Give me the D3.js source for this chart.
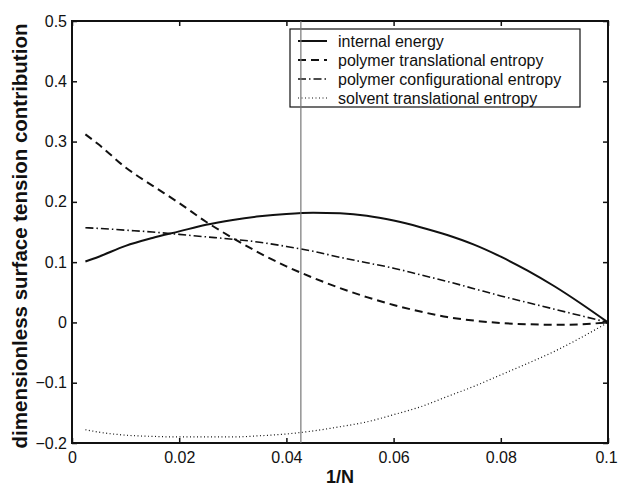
<!DOCTYPE html>
<html>
<head>
<meta charset="utf-8">
<script src="https://cdn.jsdelivr.net/npm/d3@7"></script>
<style>
  body { margin: 0; background: #fff; }
  text { font-family: "Liberation Sans", Arial, Helvetica, sans-serif; }
</style>
</head>
<body>
<div id="graph"></div>
<script>
// --------------------------------------
//  Data (1/N and contributions)
// --------------------------------------

const invN = [0.0025, 0.005, 0.01, 0.015, 0.02, 0.025, 0.03, 0.035, 0.04, 0.045, 0.05,
              0.055, 0.06, 0.065, 0.07, 0.075, 0.08, 0.085, 0.09, 0.095, 0.1];

const internalEnergy = [0.101, 0.109, 0.127, 0.140, 0.151, 0.162, 0.170, 0.176, 0.180, 0.182, 0.181,
                        0.177, 0.169, 0.158, 0.145, 0.129, 0.109, 0.086, 0.060, 0.031, 0];

const polymerTrans = [0.312, 0.295, 0.257, 0.227, 0.198, 0.167, 0.140, 0.115, 0.093, 0.074, 0.057,
                      0.042, 0.029, 0.018, 0.009, 0.003, -0.001, -0.003, -0.004, -0.003, 0];

const polymerConf = [0.157, 0.156, 0.153, 0.150, 0.146, 0.142, 0.138, 0.133, 0.126, 0.118, 0.108,
                     0.099, 0.090, 0.079, 0.068, 0.056, 0.044, 0.033, 0.022, 0.011, 0];

const solventTrans = [-0.178, -0.182, -0.187, -0.189, -0.190, -0.190, -0.190, -0.188, -0.185, -0.180, -0.173,
                      -0.165, -0.153, -0.140, -0.123, -0.106, -0.087, -0.068, -0.048, -0.025, 0];

const seriesNames = ["internal energy", "polymer translational entropy",
                     "polymer configurational entropy", "solvent translational entropy"];

const xTicks = [0, 0.02, 0.04, 0.06, 0.08, 0.1];
const yTicks = [-0.2, -0.1, 0, 0.1, 0.2, 0.3, 0.4, 0.5];
const markerX = 0.0427;

// --------------------------------------
//  Margin and canvas
// --------------------------------------

const margin = { top: 21, right: 10, bottom: 46, left: 72 };
const width = 618 - margin.left - margin.right;
const height = 489 - margin.top - margin.bottom;

const svg = d3.select("#graph")
  .append("svg")
  .attr("width", 618)
  .attr("height", 489)
  .append("g")
  .attr("transform", "translate(" + margin.left + "," + margin.top + ")");

// --------------------------------------
//  Scales
// --------------------------------------

const x = d3.scaleLinear().domain([0, 0.1]).range([0, width]);
const y = d3.scaleLinear().domain([-0.2, 0.5]).range([height, 0]);

const styles = [
  { dash: null, width: 2 },
  { dash: "8,5", width: 2 },
  { dash: "8,3,1.5,3", width: 1.6 },
  { dash: "1,2.5", width: 1.2 }
];

// --------------------------------------
//  Axes (ticks inside, box around)
// --------------------------------------

const fmt = d => d3.format("")(+d.toFixed(2)).replace("-", "\u2212");

const xAxis = svg.append("g")
  .attr("transform", "translate(0," + height + ")")
  .call(d3.axisBottom(x).tickValues(xTicks).tickSize(-5).tickPadding(9).tickFormat(fmt));

// keep the last label inside the window
xAxis.selectAll(".tick text").filter(d => d === 0.1).attr("dx", -2);

const yAxis = svg.append("g")
  .call(d3.axisLeft(y).tickValues(yTicks).tickSize(-5).tickPadding(5).tickFormat(fmt));

svg.append("g")
  .call(d3.axisTop(x).tickValues(xTicks).tickSize(-5).tickFormat(""));
svg.append("g")
  .attr("transform", "translate(" + width + ",0)")
  .call(d3.axisRight(y).tickValues(yTicks).tickSize(-5).tickFormat(""));

svg.selectAll(".domain").remove();
svg.selectAll(".tick line").attr("stroke", "#111").attr("stroke-width", 1.5);
svg.selectAll(".tick text").attr("font-size", 16).attr("fill", "#111")
  .attr("font-family", "'Liberation Sans', Arial, sans-serif");

svg.append("rect")
  .attr("width", width)
  .attr("height", height)
  .attr("fill", "none")
  .attr("stroke", "#111")
  .attr("stroke-width", 2);

// --------------------------------------
//  Lines
// --------------------------------------

const line = d3.line()
  .x((d, i) => x(invN[i]))
  .y(d => y(d))
  .curve(d3.curveMonotoneX);

[internalEnergy, polymerTrans, polymerConf, solventTrans].forEach((vals, k) => {
  svg.append("path")
    .attr("d", line(vals))
    .attr("fill", "none")
    .attr("stroke", "#111")
    .attr("stroke-width", styles[k].width)
    .attr("stroke-dasharray", styles[k].dash);
});

// --------------------------------------
//  Legend
// --------------------------------------

const legend = svg.append("g").attr("transform", "translate(218,8)");

legend.append("rect")
  .attr("width", 290)
  .attr("height", 78)
  .attr("fill", "none")
  .attr("stroke", "#111")
  .attr("stroke-width", 1.2);

seriesNames.forEach((name, k) => {
  const yy = 12 + k * 19;
  legend.append("line")
    .attr("x1", 8).attr("x2", 37)
    .attr("y1", yy).attr("y2", yy)
    .attr("stroke", "#111")
    .attr("stroke-width", styles[k].width)
    .attr("stroke-dasharray", styles[k].dash);
  legend.append("text")
    .attr("x", 48)
    .attr("y", yy)
    .attr("dy", "0.35em")
    .attr("font-size", 16)
    .attr("fill", "#111")
    .text(name);
});

// vertical marker line
svg.append("line")
  .attr("x1", x(markerX)).attr("x2", x(markerX))
  .attr("y1", 0).attr("y2", height)
  .attr("stroke", "#777")
  .attr("stroke-width", 1.2);

// --------------------------------------
//  Axis titles
// --------------------------------------

svg.append("text")
  .attr("x", width / 2)
  .attr("y", height + 40)
  .attr("text-anchor", "middle")
  .attr("font-size", 18)
  .attr("font-weight", "bold")
  .attr("fill", "#111")
  .text("1/N");

svg.append("text")
  .attr("transform", "translate(" + (-45) + "," + (height / 2 + 4) + ") rotate(-90)")
  .attr("text-anchor", "middle")
  .attr("font-size", 20.5)
  .attr("font-weight", "bold")
  .attr("fill", "#111")
  .text("dimensionless surface tension contribution");
</script>
</body>
</html>
